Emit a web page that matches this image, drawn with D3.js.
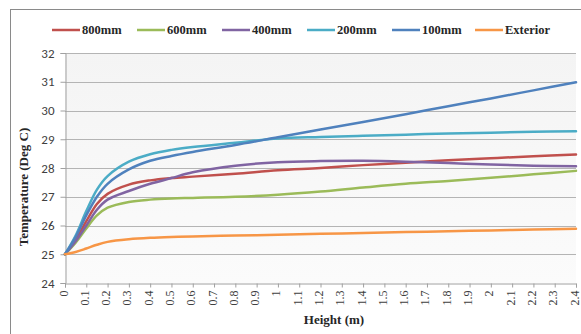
<!DOCTYPE html>
<html>
<head>
<meta charset="utf-8">
<script src="https://cdn.jsdelivr.net/npm/d3@7"></script>
<style>
  html, body { margin: 0; padding: 0; background: #fff; }
  svg { display: block; }
</style>
</head>
<body>
<svg id="chart" width="581" height="334"></svg>
<script>
// Height above floor (m) at which temperature was sampled
const heights = [0, 0.05, 0.1, 0.15, 0.2, 0.3, 0.4, 0.5, 0.6, 0.8, 1.0, 1.2, 1.4, 1.6, 1.8, 2.0, 2.2, 2.4];

// Temperature (Deg C) for each distance from the heater
const t800 = [25, 25.5, 26.15, 26.75, 27.1, 27.42, 27.57, 27.65, 27.7, 27.8, 27.92, 28.0, 28.1, 28.18, 28.27, 28.34, 28.41, 28.47];
const t600 = [25, 25.4, 25.9, 26.35, 26.62, 26.82, 26.9, 26.94, 26.96, 27.0, 27.07, 27.18, 27.32, 27.45, 27.55, 27.66, 27.78, 27.9];
const t400 = [25, 25.45, 26.0, 26.55, 26.9, 27.2, 27.45, 27.65, 27.85, 28.08, 28.2, 28.24, 28.25, 28.22, 28.17, 28.12, 28.08, 28.06];
const t200 = [25, 25.65, 26.5, 27.25, 27.72, 28.22, 28.48, 28.63, 28.73, 28.88, 29.03, 29.08, 29.12, 29.16, 29.2, 29.23, 29.26, 29.28];
const t100 = [25, 25.6, 26.35, 27.0, 27.45, 27.95, 28.25, 28.42, 28.56, 28.8, 29.07, 29.34, 29.6, 29.87, 30.15, 30.42, 30.7, 30.98];
const tExt = [25, 25.08, 25.2, 25.33, 25.43, 25.52, 25.57, 25.6, 25.62, 25.65, 25.68, 25.71, 25.74, 25.77, 25.8, 25.83, 25.86, 25.89];

const seriesNames = ["800mm", "600mm", "400mm", "200mm", "100mm", "Exterior"];
const seriesColors = ["#C0504D", "#9BBB59", "#8064A2", "#4BACC6", "#4F81BD", "#F79646"];
const seriesValues = [t800, t600, t400, t200, t100, tExt];

const xTicks = [0, 0.1, 0.2, 0.3, 0.4, 0.5, 0.6, 0.7, 0.8, 0.9, 1, 1.1, 1.2, 1.3, 1.4, 1.5, 1.6, 1.7, 1.8, 1.9, 2, 2.1, 2.2, 2.3, 2.4];
const yTicks = [24, 25, 26, 27, 28, 29, 30, 31, 32];

const svg = d3.select("#chart");
const plot = { left: 65, right: 576, top: 53, bottom: 283 };

// outer chart frame
svg.append("rect")
  .attr("x", 10.5).attr("y", 9.5)
  .attr("width", 620).attr("height", 400)
  .attr("fill", "#fff").attr("stroke", "#8a8a8a").attr("stroke-width", 1);

const x = d3.scaleLinear().domain([0, 2.4]).range([plot.left, plot.right]);
const y = d3.scaleLinear().domain([24, 32]).range([plot.bottom, plot.top]);

// plot area background
const grad = svg.append("defs").append("linearGradient")
  .attr("id", "bg").attr("x1", 0).attr("y1", 0).attr("x2", 0).attr("y2", 1);
grad.append("stop").attr("offset", 0).attr("stop-color", "#f4f4f4");
grad.append("stop").attr("offset", 1).attr("stop-color", "#fbfbfb");
svg.append("rect")
  .attr("x", plot.left).attr("y", plot.top)
  .attr("width", plot.right - plot.left).attr("height", plot.bottom - plot.top)
  .attr("fill", "url(#bg)");

// horizontal gridlines
svg.append("g").selectAll("line")
  .data(yTicks.filter(d => d > 24))
  .join("line")
  .attr("x1", plot.left).attr("x2", plot.right)
  .attr("y1", d => Math.round(y(d)) + 0.5).attr("y2", d => Math.round(y(d)) + 0.5)
  .attr("stroke", "#b4b4b4").attr("stroke-width", 1);

// y axis
const yAxis = svg.append("g")
  .attr("transform", `translate(${plot.left + 0.5},0)`)
  .call(d3.axisLeft(y).tickValues(yTicks).tickSize(5).tickPadding(6).tickFormat(d3.format("d")));
yAxis.select(".domain").attr("stroke", "#a0a0a0");
yAxis.selectAll(".tick line").attr("stroke", "#a0a0a0");
yAxis.selectAll("text")
  .attr("font-family", "Carlito, 'Liberation Sans', 'DejaVu Sans', sans-serif")
  .attr("font-size", 13).attr("fill", "#404040");

// x axis with vertical tick labels
const xAxis = svg.append("g")
  .attr("transform", `translate(0,${plot.bottom + 0.5})`)
  .call(d3.axisBottom(x).tickValues(xTicks).tickSize(4).tickFormat(d => String(d)));
xAxis.select(".domain").attr("stroke", "#a0a0a0");
xAxis.selectAll(".tick line").attr("stroke", "#a0a0a0");
xAxis.selectAll("text")
  .attr("font-family", "'Liberation Serif', 'DejaVu Serif', serif")
  .attr("font-size", 12).attr("fill", "#404040")
  .attr("text-anchor", "end")
  .attr("dy", "0.25em")
  .attr("transform", "translate(-1,7) rotate(-90)")
  .attr("x", 0).attr("y", 0);

// series lines
const line = d3.line()
  .x((d, i) => x(heights[i]))
  .y(d => y(d))
  .curve(d3.curveCatmullRom.alpha(0.5));

svg.append("g").selectAll("path")
  .data(seriesValues)
  .join("path")
  .attr("d", line)
  .attr("fill", "none")
  .attr("stroke", (d, i) => seriesColors[i])
  .attr("stroke-width", 2.5)
  .attr("stroke-linejoin", "round")
  .attr("stroke-linecap", "round");

// legend
const legendX = [52, 137, 222, 307, 392, 475];
const legend = svg.append("g").selectAll("g")
  .data(seriesNames)
  .join("g")
  .attr("transform", (d, i) => `translate(${legendX[i]},30)`);
legend.append("line")
  .attr("x1", 0).attr("x2", 28).attr("y1", 0).attr("y2", 0)
  .attr("stroke", (d, i) => seriesColors[i]).attr("stroke-width", 2.5);
legend.append("text")
  .attr("x", 30).attr("y", 4)
  .attr("font-family", "'Liberation Serif', 'DejaVu Serif', serif")
  .attr("font-weight", "bold").attr("font-size", 12.5).attr("fill", "#262626")
  .text(d => d);

// axis titles
svg.append("text")
  .attr("transform", `translate(28,187) rotate(-90)`)
  .attr("text-anchor", "middle")
  .attr("font-family", "'Liberation Serif', 'DejaVu Serif', serif")
  .attr("font-weight", "bold").attr("font-size", 13).attr("fill", "#262626")
  .text("Temperature (Deg C)");

svg.append("text")
  .attr("x", 334).attr("y", 324)
  .attr("text-anchor", "middle")
  .attr("font-family", "'Liberation Serif', 'DejaVu Serif', serif")
  .attr("font-weight", "bold").attr("font-size", 13).attr("fill", "#262626")
  .text("Height (m)");
</script>
</body>
</html>
